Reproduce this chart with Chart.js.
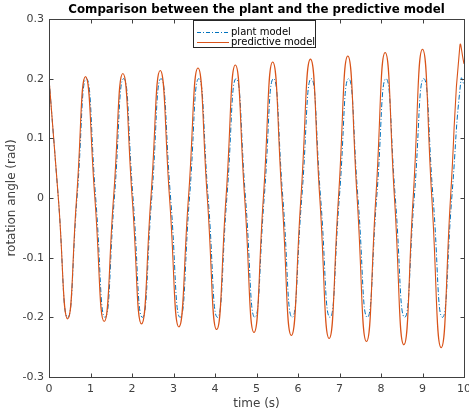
<!DOCTYPE html>
<html>
<head>
<meta charset="utf-8">
<script src="https://cdn.jsdelivr.net/npm/chart.js@4/dist/chart.umd.min.js"></script>
<style>
  html, body { margin: 0; padding: 0; background: #fff; }
  canvas { display: block; }
</style>
</head>
<body>
<canvas id="chart" width="469" height="413"></canvas>
<script>
// axis ticks
const xTicks = [0, 1, 2, 3, 4, 5, 6, 7, 8, 9, 10];
const yTicks = [-0.3, -0.2, -0.1, 0, 0.1, 0.2, 0.3];
const yTickLabels = ["-0.3", "-0.2", "-0.1", "0", "0.1", "0.2", "0.3"];

// plant model: peaks, zero crossings, troughs
const plantTime = [0, 0.225, 0.45, 0.675, 0.9, 1.125, 1.35, 1.575, 1.8, 2.025, 2.25, 2.475, 2.7, 2.93, 3.16, 3.385, 3.61, 3.835, 4.06, 4.285, 4.51, 4.735, 4.96, 5.185, 5.41, 5.635, 5.86, 6.09, 6.32, 6.545, 6.77, 6.995, 7.22, 7.445, 7.67, 7.895, 8.12, 8.345, 8.57, 8.8, 9.03, 9.255, 9.48, 9.705, 9.93, 10];
const plantAngle = [0.2, 0, -0.2, 0, 0.2, 0, -0.2, 0, 0.2, 0, -0.2, 0, 0.2, 0, -0.2, 0, 0.2, 0, -0.2, 0, 0.2, 0, -0.2, 0, 0.2, 0, -0.2, 0, 0.2, 0, -0.2, 0, 0.2, 0, -0.2, 0, 0.2, 0, -0.2, 0, 0.2, 0, -0.2, 0, 0.2, 0.19];

// predictive model: amplitude slowly grows
const predTime = [0, 0.225, 0.45, 0.665, 0.88, 1.105, 1.33, 1.555, 1.78, 2.005, 2.23, 2.455, 2.68, 2.905, 3.13, 3.36, 3.59, 3.815, 4.04, 4.265, 4.49, 4.715, 4.94, 5.165, 5.39, 5.615, 5.84, 6.07, 6.3, 6.525, 6.75, 6.975, 7.2, 7.425, 7.65, 7.875, 8.1, 8.325, 8.55, 8.775, 9.0, 9.225, 9.45, 9.675, 9.9, 10];
const predAngle = [0.2, 0, -0.2025, 0, 0.2035, 0, -0.207, 0, 0.2086, 0, -0.211, 0, 0.2136, 0, -0.216, 0, 0.218, 0, -0.2204, 0, 0.223, 0, -0.2254, 0, 0.228, 0, -0.2304, 0, 0.2327, 0, -0.2354, 0, 0.238, 0, -0.2405, 0, 0.2438, 0, -0.246, 0, 0.2494, 0, -0.251, 0, 0.2545, 0.225];

const seriesNames = ["plant model", "predictive model"];
const chartTitle = "Comparison between the plant and the predictive model";
const BLUE = "#0072BD";
const ORANGE = "#D95319";
const AXIS = "#404040";
const FONT = "DejaVu Sans";

const toPoints = (xs, ys) => xs.map((x, i) => ({ x: x, y: ys[i] }));

// MATLAB-like box, inward ticks, title and legend inside the axes
const matlabAxes = {
  id: "matlabAxes",
  afterDatasetsDraw(chart) {
    const ctx = chart.ctx;
    const a = chart.chartArea;
    const xs = chart.scales.x;
    const ys = chart.scales.y;
    const L = Math.round(a.left) + 0.5, R = Math.round(a.right) + 0.5;
    const T = Math.round(a.top) + 0.5, B = Math.round(a.bottom) + 0.5;
    ctx.save();
    ctx.strokeStyle = AXIS;
    ctx.lineWidth = 1;
    ctx.setLineDash([]);
    ctx.strokeRect(L, T, R - L, B - T);
    const tk = 4;
    ctx.beginPath();
    xTicks.forEach((v) => {
      const px = Math.round(xs.getPixelForValue(v)) + 0.5;
      ctx.moveTo(px, B); ctx.lineTo(px, B - tk);
      ctx.moveTo(px, T); ctx.lineTo(px, T + tk);
    });
    yTicks.forEach((v) => {
      const py = Math.round(ys.getPixelForValue(v)) + 0.5;
      ctx.moveTo(L, py); ctx.lineTo(L + tk, py);
      ctx.moveTo(R, py); ctx.lineTo(R - tk, py);
    });
    ctx.stroke();

    // title centred over the axes
    ctx.fillStyle = "#000";
    ctx.font = "bold 11.8px '" + FONT + "'";
    ctx.textAlign = "center";
    ctx.textBaseline = "middle";
    ctx.fillText(chartTitle, (a.left + a.right) / 2, 9.5);

    // legend
    const bx = 193.5, by = 20.5, bw = 122, bh = 27;
    ctx.fillStyle = "#fff";
    ctx.fillRect(bx, by, bw, bh);
    ctx.strokeStyle = "#262626";
    ctx.strokeRect(bx, by, bw, bh);
    const rows = [
      { y: 32.5, color: BLUE, dash: [4, 2, 1, 2] },
      { y: 42.5, color: ORANGE, dash: [] },
    ];
    ctx.font = "10px '" + FONT + "'";
    ctx.textAlign = "left";
    rows.forEach((r, i) => {
      ctx.strokeStyle = r.color;
      ctx.setLineDash(r.dash);
      ctx.beginPath();
      ctx.moveTo(197, r.y); ctx.lineTo(229, r.y);
      ctx.stroke();
      ctx.fillStyle = "#000";
      ctx.fillText(seriesNames[i], 231, r.y);
    });
    ctx.restore();
  },
};

new Chart(document.getElementById("chart"), {
  type: "line",
  data: {
    datasets: [
      {
        label: seriesNames[1],
        data: toPoints(predTime, predAngle),
        borderColor: ORANGE,
        borderWidth: 1.1,
        pointRadius: 0,
        tension: 0.55,
        order: 0,
      },
      {
        label: seriesNames[0],
        data: toPoints(plantTime, plantAngle),
        borderColor: BLUE,
        borderWidth: 1,
        borderDash: [5, 2, 1, 2],
        pointRadius: 0,
        tension: 0.55,
        order: 1,
      },
    ],
  },
  options: {
    responsive: false,
    animation: false,
    devicePixelRatio: 1,
    layout: { padding: { left: 0, right: 5, top: 19, bottom: 0 } },
    plugins: {
      legend: { display: false },
      tooltip: { enabled: false },
      title: { display: false },
    },
    scales: {
      x: {
        type: "linear",
        min: 0,
        max: 10,
        afterBuildTicks: (s) => { s.ticks = xTicks.map((v) => ({ value: v })); },
        afterFit: (s) => { s.height = 36; s.paddingLeft = 0; s.paddingRight = 0; },
        grid: { display: false, drawTicks: false },
        border: { display: false },
        ticks: {
          color: AXIS,
          font: { family: FONT, size: 11 },
          padding: 6,
          maxRotation: 0,
          autoSkip: false,
          callback: (v) => String(v),
        },
        title: {
          display: true,
          text: "time (s)",
          color: AXIS,
          font: { family: FONT, size: 12 },
          padding: { top: 0, bottom: 2 },
        },
      },
      y: {
        type: "linear",
        min: -0.3,
        max: 0.3,
        afterBuildTicks: (s) => { s.ticks = yTicks.map((v) => ({ value: v })); },
        afterFit: (s) => { s.width = 49; s.paddingTop = 0; s.paddingBottom = 0; },
        grid: { display: false, drawTicks: false },
        border: { display: false },
        ticks: {
          color: AXIS,
          font: { family: FONT, size: 11 },
          padding: 5,
          autoSkip: false,
          callback: (v, i) => yTickLabels[i],
        },
        title: {
          display: true,
          text: "rotation angle (rad)",
          color: AXIS,
          font: { family: FONT, size: 12 },
          padding: { top: 5, bottom: 0 },
        },
      },
    },
  },
  plugins: [matlabAxes],
});
</script>
</body>
</html>
